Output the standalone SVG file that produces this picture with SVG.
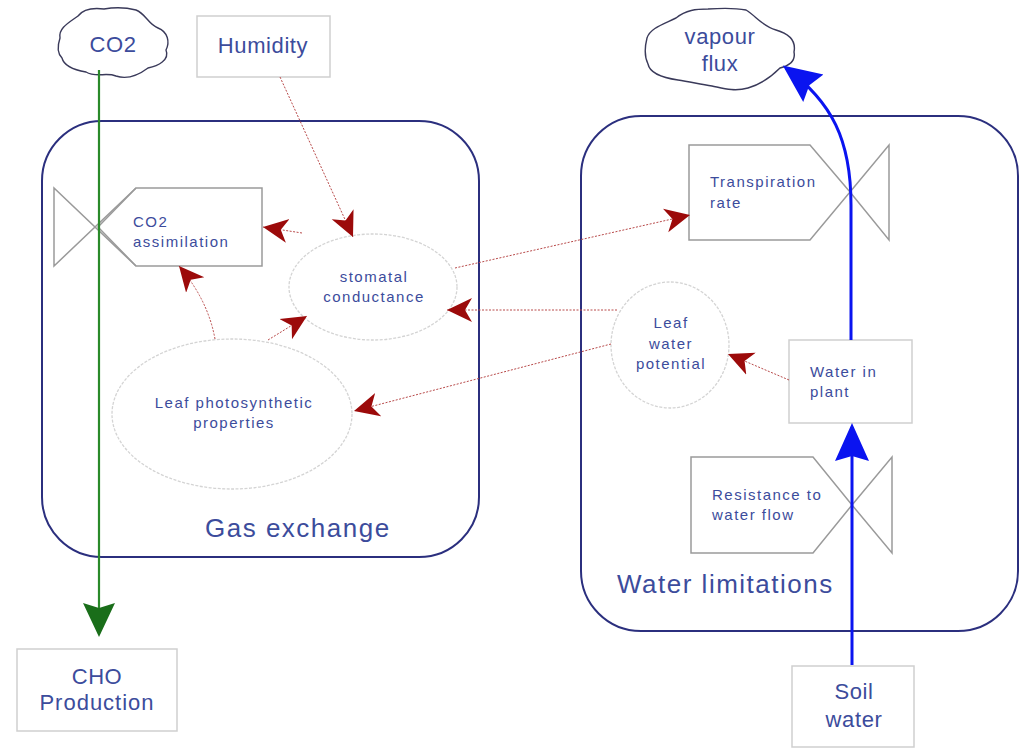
<svg xmlns="http://www.w3.org/2000/svg" width="1020" height="749" viewBox="0 0 1020 749">
<style>
  text { font-family: "Liberation Sans", Arial, sans-serif; fill: #3c4c9c; }
  .container { fill: none; stroke: #2b2f7e; stroke-width: 2; }
  .box { fill: #fff; stroke: #cfcfcf; stroke-width: 1.5; }
  .valve { fill: none; stroke: #9a9a9a; stroke-width: 1.5; }
  .ell { fill: #fff; stroke: #d4d4d4; stroke-width: 1.3; stroke-dasharray: 3 1.5; }
  .cloud { fill: #fff; stroke: #3a3a5a; stroke-width: 1.4; }
  .info { fill: none; stroke: #b84a4a; stroke-width: 1; stroke-dasharray: 2 1.5; marker-end: url(#redHead); }
  .t13 { font-size: 15px; letter-spacing: 1.5px; }
  .t18 { font-size: 22px; letter-spacing: 0.6px; }
  .t24 { font-size: 26px; letter-spacing: 1.5px; }
</style>
<defs>
  <marker id="redHead" markerUnits="userSpaceOnUse" markerWidth="28" markerHeight="26" viewBox="0 -13 28 26" refX="25" refY="0" orient="auto">
    <path d="M0,-12 L25,0 L0,12 L7,0 Z" fill="#9c0a0a"/>
  </marker>
  <marker id="blueHead" markerUnits="userSpaceOnUse" markerWidth="42" markerHeight="36" viewBox="0 -18 42 36" refX="34" refY="0" orient="auto">
    <path d="M0,-17 L38,0 L0,17 L5,0 Z" fill="#0a14f0"/>
  </marker>
  <marker id="greenHead" markerUnits="userSpaceOnUse" markerWidth="38" markerHeight="36" viewBox="0 -18 38 36" refX="31" refY="0" orient="auto">
    <path d="M0,-16 L34,0 L0,16 L5,0 Z" fill="#1a6e1a"/>
  </marker>
</defs>

<g id="gas-exchange">
  <rect class="container" x="42" y="121" width="437" height="436" rx="60" ry="60"/>
  <text class="t24" x="205" y="537">Gas exchange</text>
</g>
<g id="water-limitations">
  <rect class="container" x="581" y="116" width="437" height="515" rx="60" ry="60"/>
  <text class="t24" x="617" y="593">Water limitations</text>
</g>

<g id="co2">
  <path class="cloud" d="M60,38 C58,28 70,22 78,16 C84,8 96,8 104,9 C116,7 128,8 136,10 C146,14 148,24 158,28 C168,32 170,42 166,50 C170,60 158,66 148,68 C140,74 128,80 116,76 C106,72 96,78 86,72 C74,70 64,66 62,58 C56,52 58,44 60,38 Z"/>
  <text class="t18" x="113" y="52" text-anchor="middle">CO2</text>
</g>
<g id="humidity">
  <rect class="box" x="197" y="16" width="133" height="61"/>
  <text class="t18" x="263" y="53" text-anchor="middle">Humidity</text>
</g>
<g id="vapour-flux">
  <path class="cloud" d="M647,38 C650,28 664,24 676,18 C686,10 696,9 708,9 C722,8 736,8 746,10 C756,16 762,26 776,30 C790,34 796,42 794,52 C796,62 788,66 780,68 C772,76 762,84 748,88 C734,92 722,88 712,86 C700,84 690,82 678,80 C664,78 650,74 648,64 C644,56 645,46 647,38 Z"/>
  <text class="t18" x="720" y="44" text-anchor="middle">vapour</text>
  <text class="t18" x="720" y="71" text-anchor="middle">flux</text>
</g>

<g id="co2-assimilation">
  <path class="valve" d="M136,188 H262 V266 H136 L98,227 Z"/>
  <path class="valve" d="M136,188 L54,266 V188 L136,266"/>
  <text class="t13" x="133" y="227">CO2</text>
  <text class="t13" x="133" y="247">assimilation</text>
</g>
<g id="stomatal-conductance">
  <ellipse class="ell" cx="373" cy="287" rx="84" ry="53"/>
  <text class="t13" x="374" y="282" text-anchor="middle">stomatal</text>
  <text class="t13" x="374" y="302" text-anchor="middle">conductance</text>
</g>
<g id="leaf-photosynthetic-properties">
  <ellipse class="ell" cx="232" cy="414" rx="120" ry="75"/>
  <text class="t13" x="234" y="408" text-anchor="middle">Leaf photosynthetic</text>
  <text class="t13" x="234" y="428" text-anchor="middle">properties</text>
</g>
<g id="transpiration-rate">
  <path class="valve" d="M689,145 H810 L850,192 L810,240 H689 Z"/>
  <path class="valve" d="M850,192 L889,145 V240 Z"/>
  <text class="t13" x="710" y="187">Transpiration</text>
  <text class="t13" x="710" y="208">rate</text>
</g>
<g id="leaf-water-potential">
  <ellipse class="ell" cx="670" cy="345" rx="59" ry="63"/>
  <text class="t13" x="671" y="328" text-anchor="middle">Leaf</text>
  <text class="t13" x="671" y="349" text-anchor="middle">water</text>
  <text class="t13" x="671" y="369" text-anchor="middle">potential</text>
</g>
<g id="water-in-plant">
  <rect class="box" x="789" y="340" width="123" height="83"/>
  <text class="t13" x="810" y="377">Water in</text>
  <text class="t13" x="810" y="397">plant</text>
</g>
<g id="resistance-to-water-flow">
  <path class="valve" d="M691,457 H813 L852,505 L813,553 H691 Z"/>
  <path class="valve" d="M852,505 L892,457 V553 Z"/>
  <text class="t13" x="712" y="500">Resistance to</text>
  <text class="t13" x="712" y="520">water flow</text>
</g>
<g id="cho-production">
  <rect class="box" x="17" y="649" width="160" height="82"/>
  <text class="t18" x="97" y="684" text-anchor="middle">CHO</text>
  <text class="t18" x="97" y="710" text-anchor="middle" style="letter-spacing:1px">Production</text>
</g>
<g id="soil-water">
  <rect class="box" x="792" y="666" width="122" height="81"/>
  <text class="t18" x="854" y="699" text-anchor="middle">Soil</text>
  <text class="t18" x="854" y="727" text-anchor="middle">water</text>
</g>

<g id="connectors">
  <path d="M99,70 V634" fill="none" stroke="#2a8a2a" stroke-width="2.2" marker-end="url(#greenHead)"/>
  <path d="M851,340 V205 C851,140 832,102 786,68" fill="none" stroke="#0a14f0" stroke-width="3" marker-end="url(#blueHead)"/>
  <path d="M852,665 V427" fill="none" stroke="#0a14f0" stroke-width="3" marker-end="url(#blueHead)"/>
  <path class="info" d="M280,77 L353,237"/>
  <path class="info" d="M302,233 L263,227"/>
  <path class="info" d="M215,339 Q208,300 179,266"/>
  <path class="info" d="M268,340 L307,316"/>
  <path class="info" d="M455,268 L690,215"/>
  <path class="info" d="M617,310 L447,310"/>
  <path class="info" d="M611,344 L354,411"/>
  <path class="info" d="M789,380 L728,354"/>
</g>
</svg>
